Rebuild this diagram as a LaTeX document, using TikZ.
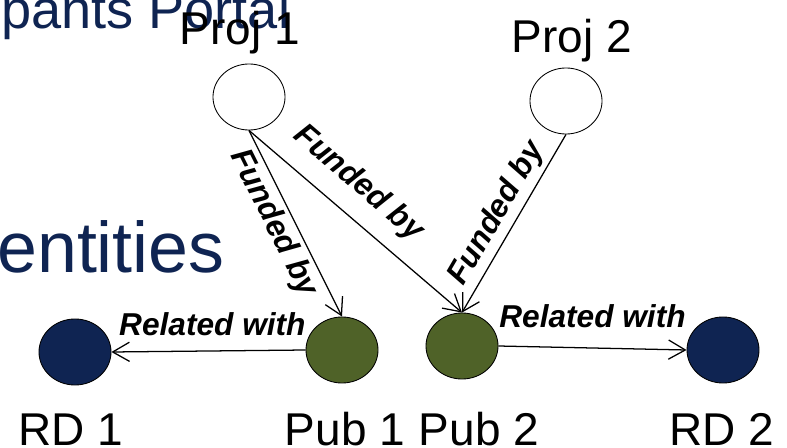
\documentclass[tikz,border=0pt]{standalone}
\usepackage{fontspec}
\setmainfont{Liberation Sans}
\usepackage{tikz}
\usetikzlibrary{shapes.geometric, arrows.meta, positioning}
\definecolor{rdblue}{HTML}{0F2452}
\definecolor{pubgreen}{HTML}{4F6228}
\tikzstyle{proj} = [ellipse, minimum width=1.8cm, minimum height=1.65cm, inner sep=0pt, draw=black, line width=0.6pt, fill=white]
\tikzstyle{pub} = [ellipse, minimum width=1.8cm, minimum height=1.65cm, inner sep=0pt, draw=black, line width=0.6pt, fill=pubgreen]
\tikzstyle{rd} = [ellipse, minimum width=1.8cm, minimum height=1.65cm, inner sep=0pt, draw=black, line width=0.6pt, fill=rdblue]
\tikzstyle{myarrow} = [-{Straight Barb[length=4.2mm, width=4.8mm]}, line width=0.9pt]
\tikzstyle{rel} = [font=\fontsize{22.5}{24}\selectfont\bfseries\itshape, inner sep=3pt]
\tikzstyle{lbl} = [font=\fontsize{32.7}{36}\selectfont, anchor=base, inner sep=0pt]

\begin{document}
\begin{tikzpicture}[x=0.025cm, y=0.025cm]
\useasboundingbox (0,0) rectangle (787,447);
% slide text behind the diagram
\node (title) [anchor=base west, inner sep=0pt, text=rdblue, font=\fontsize{38.5}{40}\selectfont] at (1,418) {pants Portal};
\node (heading) [anchor=base west, inner sep=0pt, text=rdblue, font=\fontsize{51}{54}\selectfont] at (-3,174) {entities};
% entities
\node (proj1) [proj] at (249,350) {};
\node (proj2) [proj] at (566,346) {};
\node (pub1) [pub] at (342,97) {};
\node (pub2) [pub] at (462,101) {};
\node (rd1) [rd] at (75,95) {};
\node (rd2) [rd] at (723,97) {};
% names
\node (proj1txt) [lbl] at (240,402) {Proj 1};
\node (proj2txt) [lbl] at (572,394) {Proj 2};
\node (rd1txt) [lbl] at (71,2) {RD 1};
\node (pub1txt) [lbl] at (345,2) {Pub 1};
\node (pub2txt) [lbl] at (479,2) {Pub 2};
\node (rd2txt) [lbl] at (722,2) {RD 2};
% links
\draw [myarrow] (proj1.south) -- node[rel, sloped, below, pos=0.45]{Funded by} (pub1.north);
\draw [myarrow] (proj1.south) -- node[rel, sloped, above=8pt, pos=0.42]{Funded by} (pub2.north);
\draw [myarrow] (proj2.south) -- node[rel, sloped, above]{Funded by} (pub2.north);
\draw [myarrow] (pub1.west) -- node[rel, above=7pt, pos=0.48]{Related with} (rd1.east);
\draw [myarrow] (pub2.east) -- node[rel, above=11pt]{Related with} (rd2.west);
\end{tikzpicture}
\end{document}
